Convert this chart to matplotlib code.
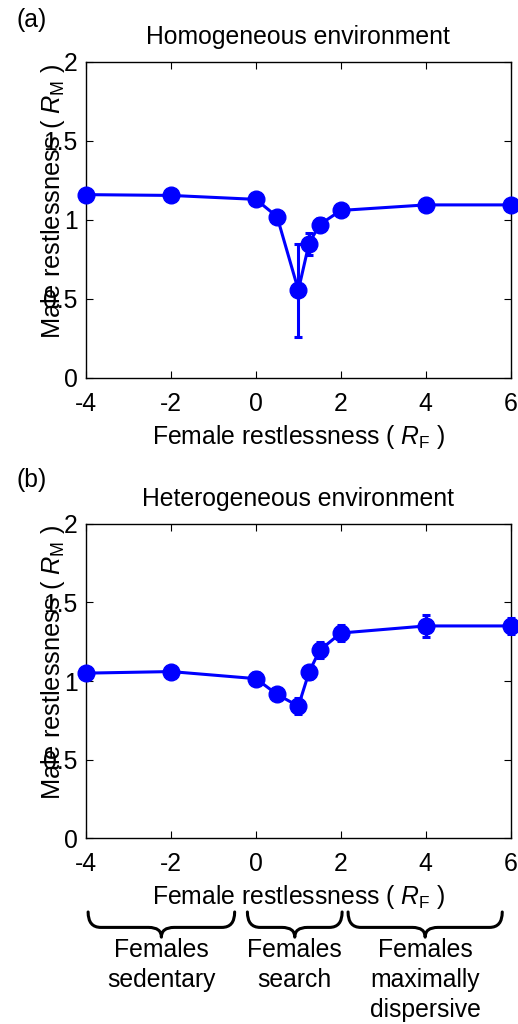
import matplotlib
matplotlib.use("Agg")
import matplotlib.pyplot as plt
from matplotlib.path import Path
from matplotlib.patches import PathPatch

plt.rcParams['font.family'] = ['Liberation Sans', 'DejaVu Sans']
plt.rcParams['mathtext.fontset'] = 'custom'
plt.rcParams['mathtext.rm'] = 'Liberation Sans'
plt.rcParams['mathtext.it'] = 'Liberation Sans:italic'
plt.rcParams['axes.unicode_minus'] = False

# female restlessness values used in the simulations
rf = [-4, -2, 0, 0.5, 1, 1.25, 1.5, 2, 4, 6]

# homogeneous environment: mean male restlessness and error
rm_hom = [1.16, 1.155, 1.13, 1.02, 0.555, 0.85, 0.97, 1.06, 1.095, 1.095]
err_hom = [0.03, 0.03, 0.03, 0.03, 0.295, 0.07, 0.04, 0.03, 0.03, 0.03]

# heterogeneous environment
rm_het = [1.05, 1.06, 1.015, 0.915, 0.84, 1.055, 1.195, 1.305, 1.35, 1.35]
err_het = [0.03, 0.03, 0.04, 0.03, 0.05, 0.04, 0.05, 0.05, 0.07, 0.05]

yticks = [0, 0.5, 1, 1.5, 2]
xticks = [-4, -2, 0, 2, 4, 6]

group_labels = ['Females\nsedentary', 'Females\nsearch', 'Females\nmaximally\ndispersive']
group_spans = [(-3.95, -0.5), (-0.2, 2.03), (2.17, 5.8)]

FS = 17.8
fig = plt.figure(figsize=(5.18, 10.24), dpi=100)
ax_a = fig.add_axes([0.166, 0.631, 0.820, 0.3085])
ax_b = fig.add_axes([0.166, 0.1813, 0.820, 0.3073])


def style(ax, title):
    ax.set_xlim(-4, 6)
    ax.set_ylim(0, 2)
    ax.set_xticks(xticks)
    ax.set_yticks(yticks)
    ax.set_yticklabels(['0', '0.5', '1', '1.5', '2'])
    ax.tick_params(direction='in', top=True, right=True, length=5,
                   labelsize=FS, width=0.8)
    ax.tick_params(axis='x', pad=10)
    ax.tick_params(axis='y', pad=6)
    for s in ax.spines.values():
        s.set_linewidth(1.0)
    ax.set_title(title, fontsize=FS, pad=13)
    ax.set_xlabel(r'Female restlessness ( $R_{\rm F}$ )', fontsize=FS, labelpad=5)
    ax.set_ylabel(r'Male restlessness ( $R_{\rm M}$ )', fontsize=18.3)
    ax.yaxis.set_label_coords(-0.045, 0.56)


def brace(ax, x0, x1, ytop, ymid, ytip, w=0.3):
    xc = 0.5 * (x0 + x1)
    verts = [(x0, ytop), (x0, ymid), (x0 + w, ymid),
             (xc - w, ymid),
             (xc, ymid), (xc, ytip),
             (xc, ymid), (xc + w, ymid),
             (x1 - w, ymid),
             (x1, ymid), (x1, ytop)]
    codes = [Path.MOVETO, Path.CURVE3, Path.CURVE3,
             Path.LINETO,
             Path.CURVE3, Path.CURVE3,
             Path.CURVE3, Path.CURVE3,
             Path.LINETO,
             Path.CURVE3, Path.CURVE3]
    patch = PathPatch(Path(verts, codes), transform=ax.get_xaxis_transform(),
                      fill=False, lw=2.2, color='black', clip_on=False,
                      capstyle='round', joinstyle='round')
    ax.add_patch(patch)


for ax, rm, err, title in [(ax_a, rm_hom, err_hom, 'Homogeneous environment'),
                           (ax_b, rm_het, err_het, 'Heterogeneous environment')]:
    ax.errorbar(rf, rm, yerr=err, color='blue', lw=2.2, marker='o', ms=12,
                mec='blue', mfc='blue', elinewidth=2.2, capsize=3, capthick=2.2,
                clip_on=False, zorder=3)
    style(ax, title)

fig.text(0.032, 0.980, '(a)', fontsize=FS, ha='left', va='center')
fig.text(0.032, 0.531, '(b)', fontsize=FS, ha='left', va='center')

for (x0, x1), lab in zip(group_spans, group_labels):
    brace(ax_b, x0, x1, -0.234, -0.283, -0.314)
    ax_b.text(0.5 * (x0 + x1), -0.318, lab, transform=ax_b.get_xaxis_transform(),
              ha='center', va='top', fontsize=FS, linespacing=1.3)

fig.savefig('out.png', dpi=100)
